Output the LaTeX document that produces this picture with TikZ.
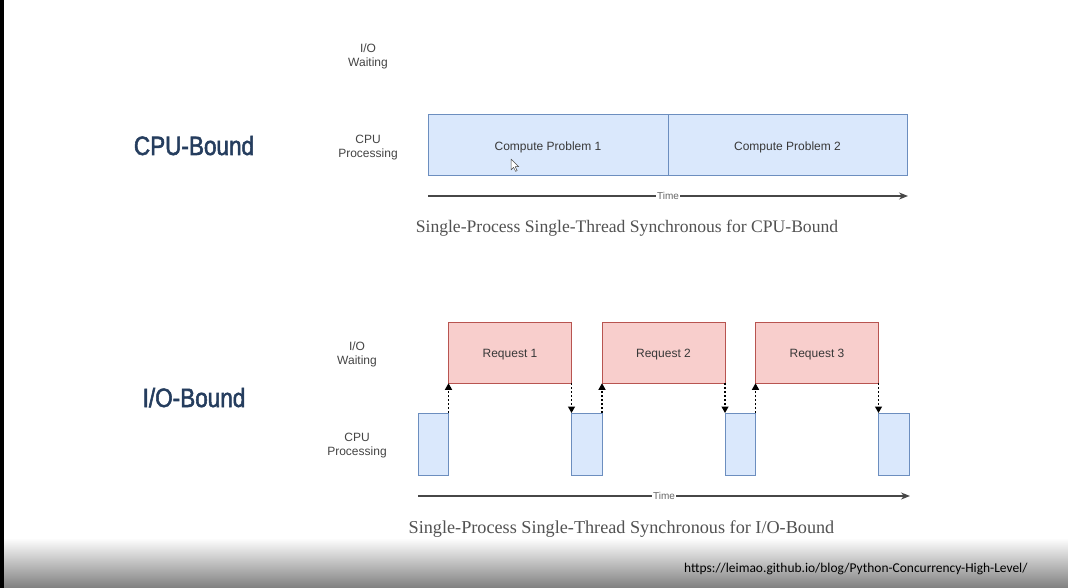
\documentclass[tikz,border=0pt]{standalone}
\usepackage{fontspec}
\usepackage{xcolor}
\usetikzlibrary{arrows.meta}
\setmainfont{Liberation Sans}
\newfontfamily\headfont{Liberation Sans}[FakeStretch=0.85,FakeBold=2]
\newfontfamily\capfont{Liberation Serif}
\newfontfamily\urlfont{Carlito}
\definecolor{cpufill}{HTML}{DAE8FC}
\definecolor{cpuline}{HTML}{6C8EBF}
\definecolor{iofill}{HTML}{F8CECC}
\definecolor{ioline}{HTML}{B85450}
\definecolor{headblue}{HTML}{253D5E}
\definecolor{labgray}{HTML}{444444}

\begin{document}
\begin{tikzpicture}[x=1pt,y=-1pt,>={Triangle[length=6.5pt,width=7pt]},
    rowlab/.style={align=center,font=\fontsize{12}{14}\selectfont,text=labgray},
    cpubox/.style={draw=cpuline,fill=cpufill,line width=1pt,inner sep=0pt,outer sep=0pt,
        text height=9.5pt,text depth=0pt,font=\fontsize{12}{14}\selectfont,text=black!78},
    iobox/.style={draw=ioline,fill=iofill,line width=1pt,inner sep=0pt,outer sep=0pt,
        text height=9.5pt,text depth=0pt,minimum width=123pt,minimum height=61pt,
        font=\fontsize{12}{14}\selectfont,text=black!78},
    timeline/.style={draw=black!72,line width=1.4pt,-{Stealth[length=9pt,width=7pt]}},
    timelab/.style={fill=white,inner sep=0.6pt,font=\fontsize{10}{10}\selectfont,text=black!60},
    hop/.style={->,dash pattern=on 2pt off 2pt,line width=1.2pt},
    caption/.style={anchor=base,font=\capfont\fontsize{17.6}{20}\selectfont,text=black!68},
    heading/.style={anchor=base,font=\headfont\fontsize{26.5}{30}\selectfont,text=headblue}]
    \useasboundingbox (0,0) rectangle (1068,588);
    % screen background
    \fill[white] (0,0) rectangle (1068,588);
    \shade[top color=white,bottom color=black!50] (0,538) rectangle (1068,588);
    \fill[black] (0,0) rectangle (4,588);

    % CPU-bound
    \begin{scope}
        \node[heading] (cpuhead) at (194,155) {CPU-Bound};
        \node[rowlab] (cpuwait) at (368,56) {I/O\\Waiting};
        \node[rowlab] (cpuproc) at (368,147.5) {CPU\\Processing};
        \node[cpubox,minimum width=240pt,minimum height=61pt] (cp1) at (548,145.5) {Compute Problem 1};
        \node[cpubox,minimum width=239pt,minimum height=61pt] (cp2) at (787.5,145.5) {Compute Problem 2};
        \coordinate (t0) at (428,196);
        \coordinate (t1) at (908,196);
        \draw[timeline] (t0) -- node[timelab] (cputime) {Time} (t1);
        \node[caption] (cpucap) at (627,233) {Single-Process Single-Thread Synchronous for CPU-Bound};
        % mouse pointer
        \draw[black!70,fill=white,line width=0.5pt,line join=round] (511,159) -- ++(0,11) -- ++(2.6,-2.6)
            -- ++(2,4) -- ++(1.6,-0.8) -- ++(-2,-3.9) -- ++(3.6,0) -- cycle;
    \end{scope}

    % I/O-bound
    \begin{scope}
        \node[heading] (iohead) at (194,407) {I/O-Bound};
        \node[rowlab] (iowait) at (357,354.5) {I/O\\Waiting};
        \node[rowlab] (ioproc) at (357,446) {CPU\\Processing};
        \foreach \i in {1,2,3,4}{
            \node[cpubox,minimum width=30.5pt,minimum height=62pt] (cpu\i) at ({433.25+153.5*(\i-1)},444) {};
        }
        \foreach \i in {1,2,3}{
            \pgfmathtruncatemacro{\j}{\i+1}
            \node[iobox] (req\i) at ({510+153.5*(\i-1)},352.75) {Request \i};
            \draw[hop] (cpu\i.north east) -- (req\i.south west);
            \draw[hop] (req\i.south east) -- (cpu\j.north west);
        }
        \coordinate (b0) at (418,496);
        \coordinate (b1) at (910,496);
        \draw[timeline] (b0) -- node[timelab] (iotime) {Time} (b1);
        \node[caption,font=\capfont\fontsize{18.2}{20}\selectfont] (iocap) at (621.5,533)
            {Single-Process Single-Thread Synchronous for I/O-Bound};
    \end{scope}

    \node[anchor=base west,inner sep=0pt,font=\urlfont\fontsize{13.45}{14}\selectfont] (src) at (684,572)
        {https://leimao.github.io/blog/Python-Concurrency-High-Level/};
\end{tikzpicture}
\end{document}
